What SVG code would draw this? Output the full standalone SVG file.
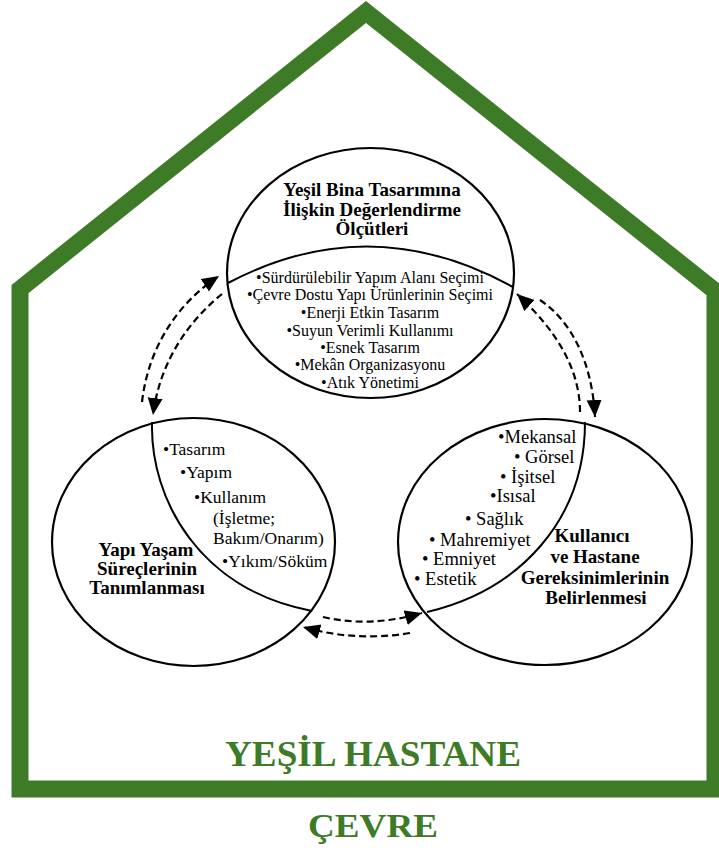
<svg xmlns="http://www.w3.org/2000/svg" width="719" height="848" viewBox="0 0 719 848">
<defs>
<style>
.house{fill:none;stroke:#3d7b27;stroke-width:17;stroke-linejoin:miter;stroke-miterlimit:10}
.circ{fill:none;stroke:#000;stroke-width:2.2}
.div{fill:none;stroke:#000;stroke-width:2}
.conn{fill:none;stroke:#000;stroke-width:2.2;stroke-dasharray:7 4;marker-end:url(#ah)}
.t{font-family:"Liberation Serif","Times New Roman",serif;fill:#000}
.b{font-weight:bold;font-size:19px}
.s16{font-size:16px}
.s18{font-size:18.5px}
.s17{font-size:17.5px}
.g{font-family:"Liberation Serif","Times New Roman",serif;font-weight:bold;fill:#3d7b27}
</style>
<marker id="ah" markerUnits="userSpaceOnUse" markerWidth="18" markerHeight="16" refX="17" refY="7.5" orient="auto">
<path d="M0,0 L17,7.5 L0,15 Z" fill="#000"/>
</marker>
</defs>
<rect width="719" height="848" fill="#fff"/>
<g id="house">
<path class="house" d="M20,789 L20,289 L366,12 L715,291 L715,789 Z"/>
<text class="g" x="373" y="766" font-size="35" text-anchor="middle" textLength="296" lengthAdjust="spacingAndGlyphs">YEŞİL HASTANE</text>
</g>
<g id="cevre">
<text class="g" x="373" y="837" font-size="33" text-anchor="middle" textLength="130" lengthAdjust="spacingAndGlyphs">ÇEVRE</text>
</g>
<g id="node-top">
<ellipse class="circ" cx="370.5" cy="273" rx="143.5" ry="125"/>
<path class="div" d="M228,283 Q370,208 513,287"/>
<g class="t" text-anchor="middle">
<text class="b" x="372" y="196">Yeşil Bina Tasarımına</text>
<text class="b" x="372" y="216">İlişkin Değerlendirme</text>
<text class="b" x="372" y="235">Ölçütleri</text>
<text class="s16" x="370" y="283">•Sürdürülebilir Yapım Alanı Seçimi</text>
<text class="s16" x="370" y="300">•Çevre Dostu Yapı Ürünlerinin Seçimi</text>
<text class="s16" x="370" y="318">•Enerji Etkin Tasarım</text>
<text class="s16" x="370" y="336">•Suyun Verimli Kullanımı</text>
<text class="s16" x="370" y="353">•Esnek Tasarım</text>
<text class="s16" x="370" y="370">•Mekân Organizasyonu</text>
<text class="s16" x="370" y="388">•Atık Yönetimi</text>
</g>
</g>
<g id="node-left">
<ellipse class="circ" cx="193.5" cy="542" rx="141.5" ry="124"/>
<path class="div" d="M152,422 C150,500 200,590 312,611"/>
<g class="t s17">
<text x="163" y="455">•Tasarım</text>
<text x="180" y="478">•Yapım</text>
<text x="194" y="503">•Kullanım</text>
<text x="213" y="524">(İşletme;</text>
<text x="213" y="544">Bakım/Onarım)</text>
<text x="222" y="567">•Yıkım/Söküm</text>
</g>
<g class="t b" text-anchor="middle">
<text x="146" y="556">Yapı Yaşam</text>
<text x="147" y="575">Süreçlerinin</text>
<text x="147" y="594">Tanımlanması</text>
</g>
</g>
<g id="node-right">
<ellipse class="circ" cx="545" cy="542" rx="147" ry="123"/>
<path class="div" d="M585,422 C585,520 520,590 427,612"/>
<g class="t s18">
<text x="498" y="443">•Mekansal</text>
<text x="514" y="463">• Görsel</text>
<text x="500" y="483">• İşitsel</text>
<text x="490" y="502">•Isısal</text>
<text x="465" y="525">• Sağlık</text>
<text x="429" y="546">• Mahremiyet</text>
<text x="422" y="565">• Emniyet</text>
<text x="414" y="585">• Estetik</text>
</g>
<g class="t b" text-anchor="middle">
<text x="592" y="542">Kullanıcı</text>
<text x="595" y="563">ve Hastane</text>
<text x="595" y="584">Gereksinimlerinin</text>
<text x="596" y="604">Belirlenmesi</text>
</g>
</g>
<g id="connectors">
<path class="conn" d="M142,402 C148,350 175,305 219,276"/>
<path class="conn" d="M222,294 C190,320 160,360 153,415"/>
<path class="conn" d="M580,412 C580,360 545,320 517,294"/>
<path class="conn" d="M540,300 C570,320 592,360 595,417"/>
<path class="conn" d="M323,617 Q370,628 422,613"/>
<path class="conn" d="M410,633 Q355,642 303,627"/>
</g>
</svg>
